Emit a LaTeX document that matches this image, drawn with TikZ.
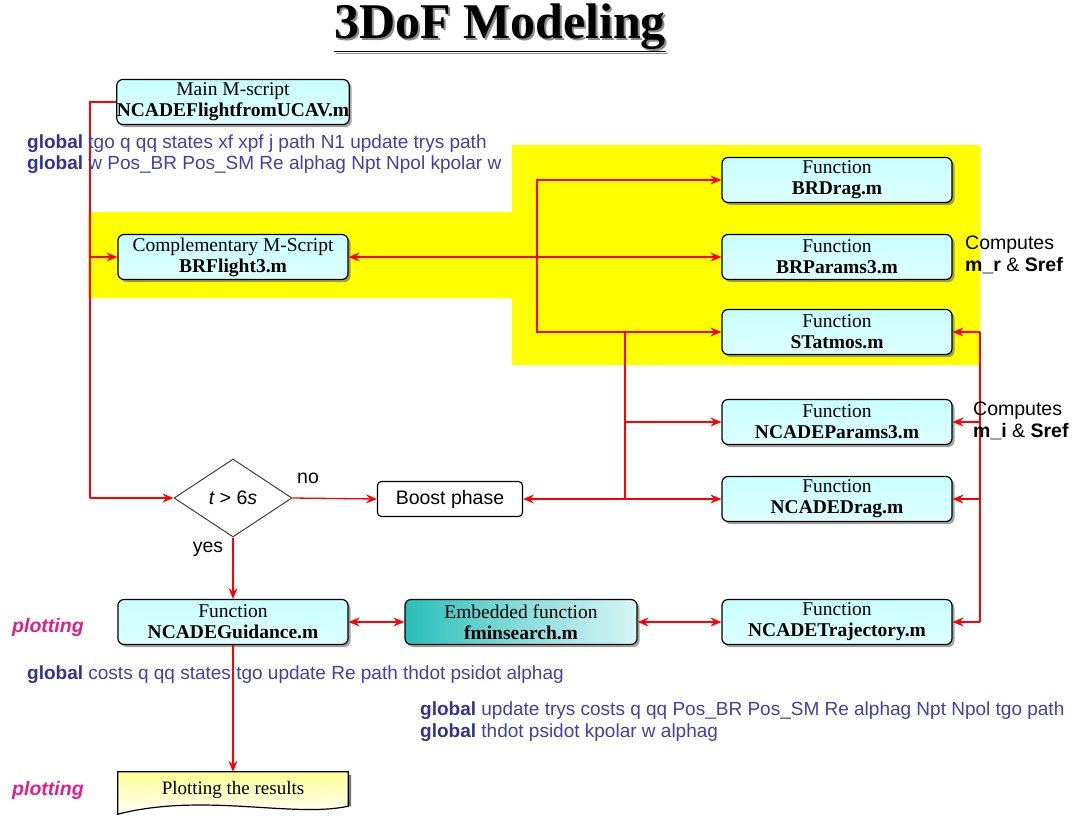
\documentclass[tikz,border=0pt]{standalone}
\usepackage{fontspec}
\setmainfont{Liberation Serif}
\newfontfamily\arial{Liberation Sans}
\usetikzlibrary{shapes.geometric,arrows.meta,shadows}
\definecolor{gblue}{RGB}{64,64,170}
\definecolor{gbold}{RGB}{50,50,150}
\definecolor{pmag}{RGB}{225,30,140}
\definecolor{boxcyan}{RGB}{200,255,255}
\definecolor{tealdk}{RGB}{40,190,185}
\definecolor{teallt}{RGB}{215,245,245}
\definecolor{ltyel}{RGB}{255,255,150}
\definecolor{bgyel}{RGB}{255,255,0}
\tikzset{
  fbox/.style={rectangle, rounded corners=6pt, draw=black, line width=1.2pt,
    minimum width=230pt, minimum height=45pt, inner sep=0pt, align=center,
    top color=boxcyan, bottom color=boxcyan!60!white,
    drop shadow={shadow xshift=2.5pt, shadow yshift=-2.5pt, opacity=0.6, fill=black!60},
    font=\fontsize{19.5}{21}\selectfont},
  conn/.style={draw=red, line width=1.3pt},
  arr/.style={conn, -{Stealth[length=11pt,width=9pt,inset=4pt]}},
  darr/.style={conn, {Stealth[length=11pt,width=9pt,inset=4pt]}-{Stealth[length=11pt,width=9pt,inset=4pt]}},
  gtext/.style={anchor=west, inner sep=0pt, text=gblue, font=\arial\fontsize{19}{21}\selectfont},
  plab/.style={anchor=west, inner sep=0pt, text=pmag, font=\arial\bfseries\itshape\fontsize{19.5}{21}\selectfont},
  ctext/.style={anchor=west, inner sep=0pt, align=left, font=\arial\fontsize{19.5}{22}\selectfont},
  slab/.style={inner sep=0pt, font=\arial\fontsize{19.5}{21}\selectfont},
}
\newcommand{\gl}{{\color{gbold}\bfseries global}}
\begin{document}
\begin{tikzpicture}[x=1pt,y=-1pt]
\useasboundingbox (0,0) rectangle (1079,820);
% yellow background
\fill[bgyel] (88,212) -- (512,212) -- (512,145) -- (980,145) -- (980,365) -- (512,365) -- (512,298) -- (88,298) -- cycle;
% title
\node[text=black!45, font=\bfseries\fontsize{50}{52}\selectfont] at (502,30) {\underline{3DoF Modeling}};
\node (title) [font=\bfseries\fontsize{50}{52}\selectfont] at (500,28) {\underline{3DoF Modeling}};
% boxes
\node (main) [fbox] at (233,102) {Main M-script\\\textbf{NCADEFlightfromUCAV.m}};
\node (comp) [fbox] at (233,257) {Complementary M-Script\\\textbf{BRFlight3.m}};
\node (brd) [fbox] at (837,180) {Function\\\textbf{BRDrag.m}};
\node (brp) [fbox] at (837,257) {Function\\\textbf{BRParams3.m}};
\node (sta) [fbox] at (837,332) {Function\\\textbf{STatmos.m}};
\node (ncp) [fbox] at (837,422) {Function\\\textbf{NCADEParams3.m}};
\node (ncd) [fbox] at (837,499) {Function\\\textbf{NCADEDrag.m}};
\node (traj) [fbox] at (837,622) {Function\\\textbf{NCADETrajectory.m}};
\node (guid) [fbox] at (233,622) {Function\\\textbf{NCADEGuidance.m}};
\node (fmin) [fbox, minimum width=232pt, left color=tealdk, right color=teallt, middle color=tealdk!45!teallt] at (521,622) {Embedded function\\\textbf{fminsearch.m}};
% decision and boost
\node (diam) [diamond, draw=black!75, line width=1pt, fill=white, minimum width=118pt, minimum height=78pt, aspect=1.5, inner sep=0pt, font=\arial\fontsize{19.5}{21}\selectfont] at (233,498) {{\itshape t} > 6{\itshape s}};
\node (boost) [rectangle, rounded corners=4pt, draw=black, line width=1.1pt, fill=white, minimum width=145pt, minimum height=35pt, font=\arial\fontsize{19.5}{21}\selectfont] at (450,499) {Boost phase};
% plotting document shape
\node (plot) [minimum width=230pt, minimum height=36pt, inner sep=0pt] at (233,790) {};
\fill[black!55] ([shift={(3,3)}]plot.north west) -- ([shift={(3,3)}]plot.north east) -- ([shift={(3,-2)}]plot.south east) .. controls ([shift={(-55,6)}]plot.south east) and ([shift={(85,-18)}]plot.south west) .. ([shift={(3,-4)}]plot.south west) -- cycle;
\draw[line width=1.2pt, top color=white, bottom color=ltyel, shading angle=180] (plot.north west) -- (plot.north east) -- ([yshift=2]plot.south east) .. controls ([shift={(-55,10)}]plot.south east) and ([shift={(85,-16)}]plot.south west) .. ([yshift=-6]plot.south west) -- cycle;
\node[font=\fontsize{19}{21}\selectfont] at (plot) {Plotting the results};
% coordinates for trunks
\coordinate (lx) at (90,0);
\coordinate (v1) at (537,0);
\coordinate (v2) at (625,0);
\coordinate (v3) at (980,0);
% connectors
\draw[conn] (main.west) -| (lx |- diam.west);
\draw[arr] (lx |- diam.west) -- (diam.west);
\draw[arr] (lx |- comp.west) -- (comp.west);
\draw[darr] (comp.east) -- (brp.west);
\draw[arr] (v1 |- comp.east) |- (brd.west);
\draw[arr] (v1 |- comp.east) |- (sta.west);
\draw[conn] (v2 |- sta.west) -- (v2 |- ncd.west);
\draw[arr] (v2 |- ncp.west) -- (ncp.west);
\draw[arr] (v2 |- ncd.west) -- (ncd.west);
\draw[arr] (v2 |- ncd.west) -- (boost.east);
\draw[conn] (v3 |- sta.east) -- (v3 |- traj.east);
\draw[arr] (v3 |- sta.east) -- (sta.east);
\draw[arr] (v3 |- ncp.east) -- (ncp.east);
\draw[arr] (v3 |- ncd.east) -- (ncd.east);
\draw[arr] (v3 |- traj.east) -- (traj.east);
\draw[arr] (diam.east) -- (boost.west);
\draw[arr] (diam.south) -- (guid.north);
\draw[darr] (guid.east) -- (fmin.west);
\draw[darr] (fmin.east) -- (traj.west);
\draw[arr] (guid.south) -- (plot.north);
% labels
\node (no) [slab] at (308,478) {no};
\node (yes) [slab] at (208,549) {yes};
\node (g1) [gtext] at (27,144) {\gl{} tgo q qq states xf xpf j path N1 update trys path};
\node (g2) [gtext] at (27,165) {\gl{} w Pos\_BR Pos\_SM Re alphag Npt Npol kpolar w};
\node (g3) [gtext] at (27,675) {\gl{} costs q qq states tgo update Re path thdot psidot alphag};
\node (g4) [gtext] at (420,711) {\gl{} update trys costs q qq Pos\_BR Pos\_SM Re alphag Npt Npol tgo path};
\node (g5) [gtext] at (420,733) {\gl{} thdot psidot kpolar w alphag};
\node (c1) [ctext] at (965,255) {Computes\\\textbf{m\_r} \& \textbf{Sref}};
\node (c2) [ctext] at (973,421) {Computes\\\textbf{m\_i} \& \textbf{Sref}};
\node (p1) [plab] at (12,627) {plotting};
\node (p2) [plab] at (12,790) {plotting};
\end{tikzpicture}
\end{document}
